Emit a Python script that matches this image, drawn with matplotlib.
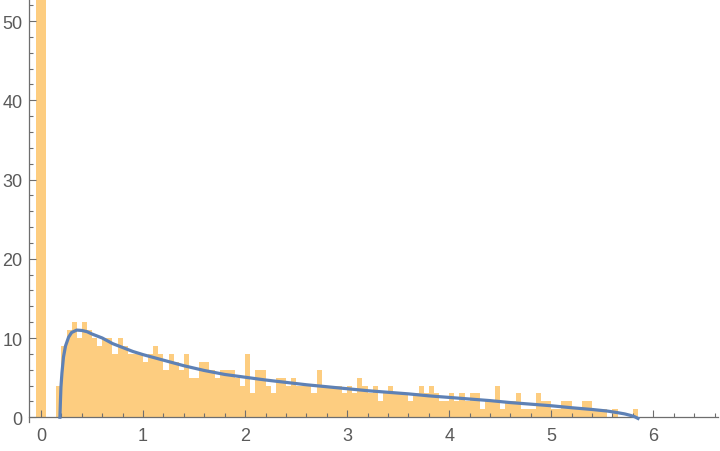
import matplotlib.pyplot as plt
import numpy as np
from matplotlib.ticker import MultipleLocator

# Histogramm: Klassenbreite 0.05, erste Klasse beginnt bei -0.05
bin_start = -0.05
bin_width = 0.05
counts = [60, 60, 0, 0, 4, 9, 11, 12, 10, 12, 11, 10, 9, 10, 10, 8, 10, 9, 8, 8, 8, 7,
          8, 9, 8, 6, 8, 7, 6, 8, 5, 5, 7, 7, 6, 5, 6, 6, 6, 5, 4, 8, 3, 6, 6, 4, 3,
          5, 5, 4, 5, 4, 4, 4, 3, 6, 4, 4, 4, 4, 3, 4, 3, 5, 4, 3, 4, 2, 3, 4, 3, 3,
          3, 2, 3, 4, 3, 4, 3, 2, 2, 3, 2, 3, 2, 3, 3, 1, 2, 2, 4, 1, 2, 2, 3, 1, 1,
          1, 3, 2, 2, 1, 1, 2, 2, 1, 1, 2, 2, 1, 1, 1, 0, 1, 0, 0, 0, 1]

# Dichtekurve
curve_x = [0.185, 0.19, 0.195, 0.205, 0.22, 0.24, 0.27, 0.30, 0.35, 0.40, 0.45, 0.50,
           0.60, 0.70, 0.80, 0.90, 1.0, 1.2, 1.4, 1.6, 1.8, 2.0, 2.2, 2.4, 2.6, 2.8,
           3.0, 3.2, 3.4, 3.6, 3.8, 4.0, 4.2, 4.4, 4.6, 4.8, 5.0, 5.2, 5.4, 5.55,
           5.65, 5.72, 5.78, 5.82, 5.85]
curve_y = [0.0, 2.0, 3.8, 5.6, 7.6, 9.0, 10.1, 10.7, 11.0, 10.95, 10.8, 10.5,
           10.0, 9.3, 8.8, 8.3, 7.9, 7.2, 6.5, 5.9, 5.4, 5.05, 4.7, 4.4, 4.1, 3.85,
           3.6, 3.35, 3.15, 2.95, 2.7, 2.5, 2.3, 2.1, 1.85, 1.65, 1.45, 1.2, 0.98, 0.78,
           0.58, 0.42, 0.22, 0.05, -0.15]

edges = bin_start + bin_width * np.arange(len(counts) + 1)

fig = plt.figure(figsize=(7.2, 4.52), dpi=100)
ax = fig.add_axes([29.3 / 720, 1 - 423 / 452, (718 - 29.3) / 720, 423 / 452])

ax.stairs(counts, edges, fill=True, color='#fdcd80', linewidth=0, zorder=1)
ax.plot(curve_x, curve_y, color='#5e81b5', lw=2.3, zorder=3, clip_on=False)

ax.set_xlim(-0.115, 6.634)
ax.set_ylim(-0.6, 52.78)

axis_col = '#6e6e6e'
ax.spines['top'].set_visible(False)
ax.spines['right'].set_visible(False)
ax.spines['bottom'].set_position(('data', 0))
for s in ('left', 'bottom'):
    ax.spines[s].set_color(axis_col)
    ax.spines[s].set_linewidth(0.9)

ax.xaxis.set_major_locator(MultipleLocator(1))
ax.xaxis.set_minor_locator(MultipleLocator(0.2))
ax.yaxis.set_major_locator(MultipleLocator(10))
ax.yaxis.set_minor_locator(MultipleLocator(2))

ax.tick_params(which='both', direction='in', color=axis_col, width=0.8,
               labelcolor='#5a5a5a', labelsize=13, top=False, right=False)
ax.tick_params(which='major', length=5)
ax.tick_params(which='minor', length=3)
ax.tick_params(axis='x', pad=6.8)
ax.tick_params(axis='y', pad=5)

for lab in ax.get_xticklabels() + ax.get_yticklabels():
    lab.set_family(['Liberation Sans', 'DejaVu Sans'])

fig.savefig('out.png', dpi=100)
